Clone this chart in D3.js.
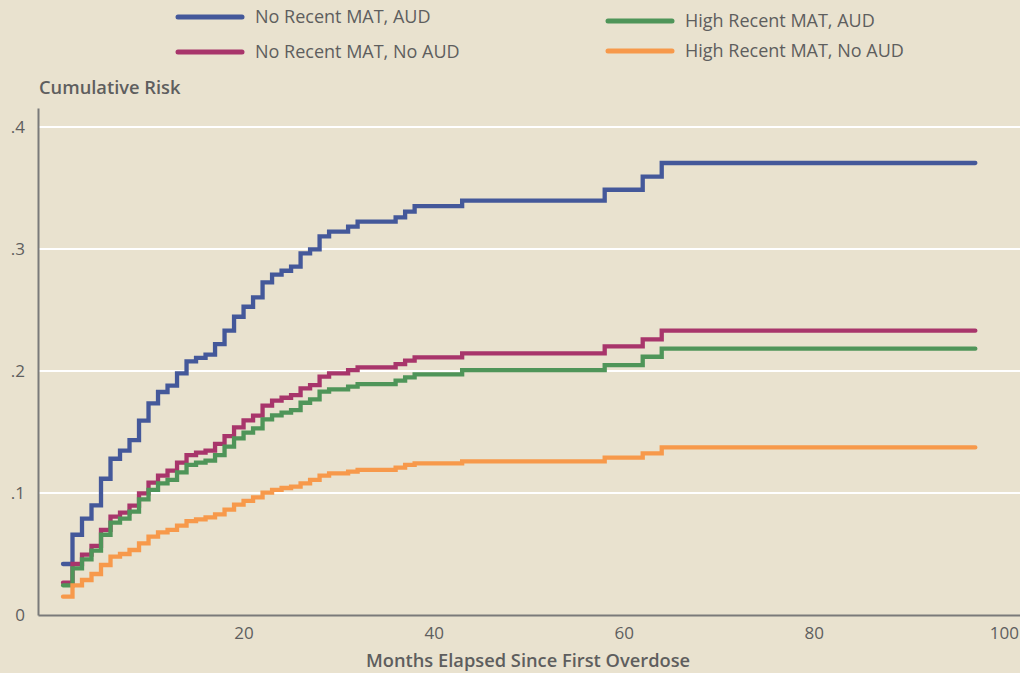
<!DOCTYPE html>
<html>
<head>
<meta charset="utf-8">
<script src="https://cdn.jsdelivr.net/npm/d3@7"></script>
<style>
	body { margin: 0; background: #e9e2cf; }
	svg { display: block; font-family: "Open Sans", sans-serif; }
</style>
</head>
<body>
<div id="chart"></div>
<script>
// months where the curves step (last one is where they stop)
var months = [1, 2, 3, 4, 5, 6, 7, 8, 9, 10, 11, 12, 13, 14, 15, 16, 17, 18, 19, 20,
	21, 22, 23, 24, 25, 26, 27, 28, 29, 31, 32, 36, 37, 38, 43, 58, 62, 64, 97];

var noMatAud = [.0418, .0658, .0790, .0899, .1117, .1281, .1347, .1434, .1593, .1735,
	.1828, .1880, .1981, .2079, .2107, .2134, .2221, .2331, .2445, .2527,
	.2604, .2726, .2790, .2822, .2855, .2964, .2997, .3104, .3143, .3183,
	.3224, .3259, .3306, .3352, .3396, .3486, .3593, .3705, .3705];

var noMatNoAud = [.0265, .0418, .0495, .0566, .0697, .0806, .0839, .0896, .0997, .1085,
	.1142, .1183, .1249, .1311, .1331, .1347, .1402, .1467, .1538, .1595,
	.1635, .1716, .1757, .1781, .1803, .1858, .1885, .1954, .1981, .2008,
	.2030, .2057, .2085, .2112, .2145, .2202, .2260, .2331, .2331];

var highMatAud = [.0243, .0383, .0456, .0527, .0658, .0757, .0790, .0847, .0948, .1025,
	.1079, .1107, .1169, .1230, .1249, .1265, .1311, .1380, .1448, .1495,
	.1530, .1604, .1637, .1659, .1680, .1740, .1768, .1831, .1850, .1872,
	.1893, .1921, .1948, .1973, .2008, .2049, .2117, .2183, .2183];

var highMatNoAud = [.0150, .0243, .0287, .0336, .0410, .0478, .0500, .0533, .0587, .0642,
	.0678, .0697, .0732, .0770, .0784, .0800, .0825, .0863, .0905, .0935,
	.0965, .1003, .1025, .1041, .1052, .1079, .1107, .1142, .1161, .1175,
	.1189, .1208, .1230, .1243, .1260, .1290, .1325, .1374, .1374];

var seriesNames = ['No Recent MAT, AUD', 'No Recent MAT, No AUD', 'High Recent MAT, AUD', 'High Recent MAT, No AUD'];
var seriesColors = ['#44589a', '#a8356b', '#4f9559', '#f7994b'];
var xTicks = [20, 40, 60, 80, 100];
var yTicks = [0, .1, .2, .3, .4];

var width = 1020, height = 673;
var svg = d3.select('#chart').append('svg')
	.attr('width', width)
	.attr('height', height);

svg.append('rect').attr('width', width).attr('height', height).attr('fill', '#e9e2cf');

var x = d3.scaleLinear().domain([-1.63, 101.7]).range([38, 1020]);
var y = d3.scaleLinear().domain([0, 0.4156]).range([615, 108]);

// grid
svg.append('g').selectAll('line')
	.data(yTicks.filter(function(d) { return d > 0; }))
	.enter().append('line')
		.attr('x1', x.range()[0]).attr('x2', x.range()[1])
		.attr('y1', function(d) { return y(d); })
		.attr('y2', function(d) { return y(d); })
		.attr('stroke', '#ffffff')
		.attr('stroke-width', 2);

// axes
var yAxis = d3.axisLeft(y).tickValues(yTicks).tickSize(0).tickPadding(13)
	.tickFormat(function(d) { return d === 0 ? '0' : d3.format('.1f')(d).replace(/^0/, ''); });
var gy = svg.append('g').attr('transform', 'translate(' + x.range()[0] + ',0)').call(yAxis);

var xAxis = d3.axisBottom(x).tickValues(xTicks).tickSize(0).tickPadding(12);
var gx = svg.append('g').attr('transform', 'translate(0,' + y(0) + ')').call(xAxis);

[gx, gy].forEach(function(g) {
	g.select('.domain').attr('stroke', '#7a7a7a').attr('stroke-width', 2);
	g.selectAll('text')
		.attr('fill', '#5e5e5e')
		.style('font-size', '17px')
		.style('font-family', '"Open Sans", sans-serif');
});

// step lines
var allSeries = [noMatAud, noMatNoAud, highMatAud, highMatNoAud];
var line = d3.line()
	.x(function(d) { return x(d[0]); })
	.y(function(d) { return y(d[1]); })
	.curve(d3.curveStepAfter);

svg.append('g').selectAll('path')
	.data(allSeries)
	.enter().append('path')
		.attr('d', function(s) { return line(d3.zip(months, s)); })
		.attr('fill', 'none')
		.attr('stroke', function(d, i) { return seriesColors[i]; })
		.attr('stroke-width', 4.3)
		.attr('stroke-linecap', 'round')
		.attr('stroke-linejoin', 'miter');

// titles
svg.append('text')
	.attr('x', 39).attr('y', 94)
	.attr('fill', '#5e5e5e')
	.style('font-size', '18.3px').style('font-weight', 600)
	.text('Cumulative Risk');

svg.append('text')
	.attr('x', 528).attr('y', 667)
	.attr('text-anchor', 'middle')
	.attr('fill', '#5e5e5e')
	.style('font-size', '18.3px').style('font-weight', 600)
	.text('Months Elapsed Since First Overdose');

// legend
var legendPos = [[178, 17], [178, 52], [608, 21], [608, 51]];
var legend = svg.append('g').selectAll('g')
	.data(seriesNames)
	.enter().append('g')
		.attr('transform', function(d, i) { return 'translate(' + legendPos[i][0] + ',' + legendPos[i][1] + ')'; });

legend.append('line')
	.attr('x1', 0).attr('x2', 64)
	.attr('stroke', function(d, i) { return seriesColors[i]; })
	.attr('stroke-width', 5)
	.attr('stroke-linecap', 'round');

legend.append('text')
	.attr('x', 77).attr('dy', '0.35em')
	.attr('fill', '#5e5e5e')
	.style('font-size', '18px').style('font-weight', 500)
	.text(function(d) { return d; });
</script>
</body>
</html>
